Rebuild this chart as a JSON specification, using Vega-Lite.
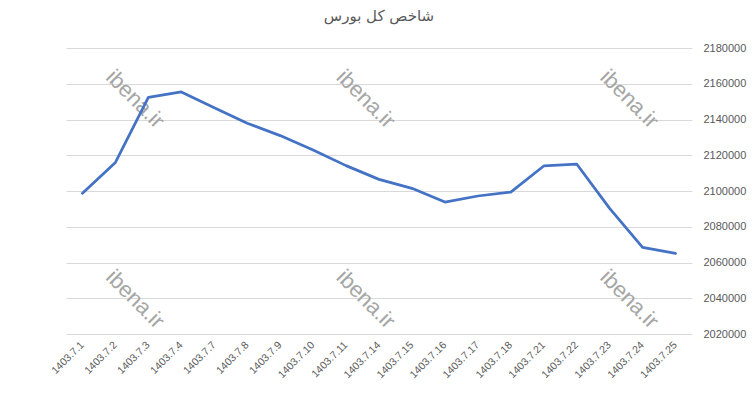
{
  "$schema": "https://vega.github.io/schema/vega-lite/v6.json",
  "width": 626,
  "height": 286,
  "autosize": {"type": "none"},
  "padding": {"left": 66, "top": 48, "right": 61, "bottom": 64},
  "background": "white",
  "config": {"view": {"stroke": null}},
  "title": {
    "text": "شاخص کل بورس",
    "anchor": "middle",
    "font": "DejaVu Sans",
    "fontSize": 15,
    "fontWeight": "normal",
    "color": "#595959",
    "offset": 18
  },
  "encoding": {
    "y": {
      "field": "value",
      "type": "quantitative",
      "scale": {"domain": [2020000, 2180000], "nice": false, "zero": false},
      "axis": {
        "title": null,
        "orient": "right",
        "values": [2020000, 2040000, 2060000, 2080000, 2100000, 2120000, 2140000, 2160000, 2180000],
        "format": "d",
        "labelFont": "Liberation Sans",
        "labelFontSize": 11,
        "labelColor": "#595959",
        "labelPadding": 11,
        "labelOverlap": false,
        "labelFlush": false,
        "ticks": false,
        "domain": false,
        "gridColor": "#D9D9D9",
        "gridWidth": 1
      }
    }
  },
  "layer": [
    {
      "data": {
        "values": [
          {"date": "1403.7.3", "value": 2151500},
          {"date": "1403.7.14", "value": 2151500},
          {"date": "1403.7.24", "value": 2151500},
          {"date": "1403.7.3", "value": 2039500},
          {"date": "1403.7.14", "value": 2039500},
          {"date": "1403.7.24", "value": 2039500}
        ]
      },
      "mark": {
        "type": "text",
        "text": "ibena.ir",
        "angle": 45,
        "font": "Liberation Sans",
        "fontSize": 22,
        "color": "#A6A6A6",
        "align": "center",
        "baseline": "middle"
      },
      "encoding": {
        "x": {
          "field": "date",
          "type": "nominal",
          "bandPosition": 0.1,
          "sort": null,
          "scale": {
            "type": "band",
            "paddingInner": 0,
            "paddingOuter": 0,
            "domain": ["1403.7.1", "1403.7.2", "1403.7.3", "1403.7.4", "1403.7.7", "1403.7.8", "1403.7.9", "1403.7.10", "1403.7.11", "1403.7.14", "1403.7.15", "1403.7.16", "1403.7.17", "1403.7.18", "1403.7.21", "1403.7.22", "1403.7.23", "1403.7.24", "1403.7.25"]
          },
          "axis": {
            "title": null,
            "labelAngle": -45,
            "labelAlign": "right",
            "labelBaseline": "middle",
            "labelFont": "Liberation Sans",
            "labelFontSize": 10.5,
            "labelColor": "#595959",
            "labelPadding": 9,
            "labelOverlap": false,
            "ticks": false,
            "domain": false,
            "grid": false
          }
        }
      }
    },
    {
      "data": {
        "values": [
          {"date": "1403.7.1", "value": 2098700},
          {"date": "1403.7.2", "value": 2116000},
          {"date": "1403.7.3", "value": 2152400},
          {"date": "1403.7.4", "value": 2155400},
          {"date": "1403.7.7", "value": 2146600},
          {"date": "1403.7.8", "value": 2137900},
          {"date": "1403.7.9", "value": 2131000},
          {"date": "1403.7.10", "value": 2123000},
          {"date": "1403.7.11", "value": 2114200},
          {"date": "1403.7.14", "value": 2106500},
          {"date": "1403.7.15", "value": 2101500},
          {"date": "1403.7.16", "value": 2093800},
          {"date": "1403.7.17", "value": 2097200},
          {"date": "1403.7.18", "value": 2099400},
          {"date": "1403.7.21", "value": 2114000},
          {"date": "1403.7.22", "value": 2115100},
          {"date": "1403.7.23", "value": 2090300},
          {"date": "1403.7.24", "value": 2068500},
          {"date": "1403.7.25", "value": 2065100}
        ]
      },
      "mark": {"type": "line", "color": "#4472C4", "strokeWidth": 2.75, "strokeCap": "round", "strokeJoin": "round"},
      "encoding": {
        "x": {
          "field": "date",
          "type": "nominal",
          "sort": null,
          "scale": {
            "type": "band",
            "paddingInner": 0,
            "paddingOuter": 0,
            "domain": ["1403.7.1", "1403.7.2", "1403.7.3", "1403.7.4", "1403.7.7", "1403.7.8", "1403.7.9", "1403.7.10", "1403.7.11", "1403.7.14", "1403.7.15", "1403.7.16", "1403.7.17", "1403.7.18", "1403.7.21", "1403.7.22", "1403.7.23", "1403.7.24", "1403.7.25"]
          },
          "axis": {
            "title": null,
            "labelAngle": -45,
            "labelAlign": "right",
            "labelBaseline": "middle",
            "labelFont": "Liberation Sans",
            "labelFontSize": 10.5,
            "labelColor": "#595959",
            "labelPadding": 9,
            "labelOverlap": false,
            "ticks": false,
            "domain": false,
            "grid": false
          }
        }
      }
    }
  ]
}
